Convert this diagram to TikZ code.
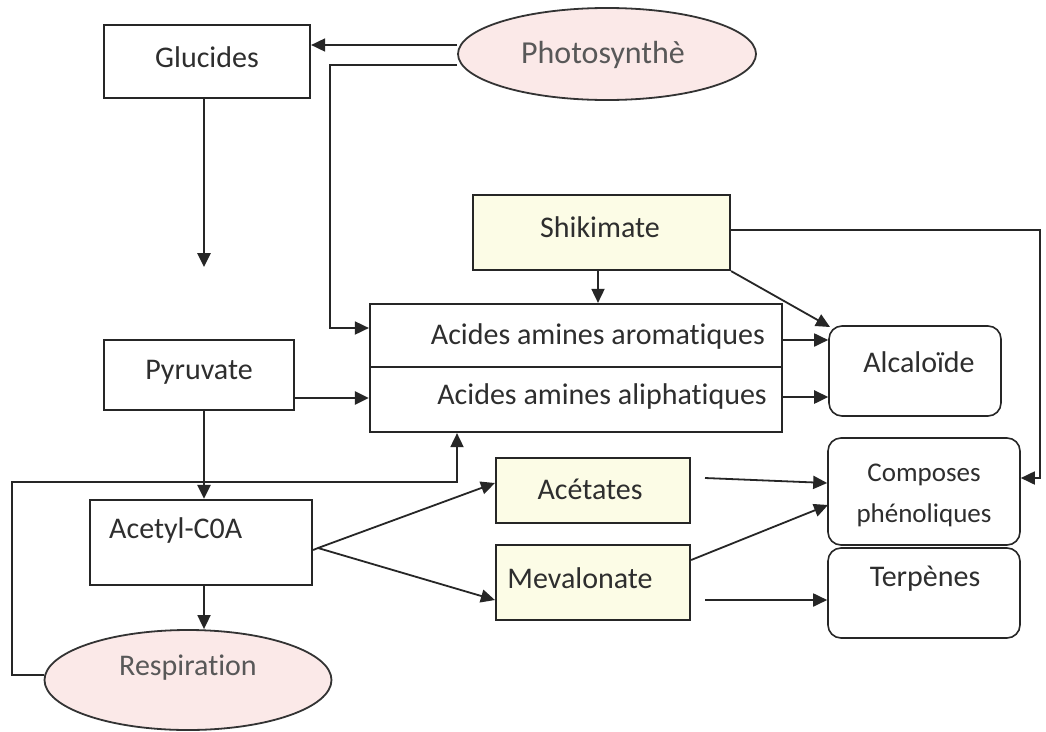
\documentclass[tikz,border=0pt]{standalone}
\usepackage{fontspec}
\setmainfont{Carlito}[Ligatures=NoCommon]
\usetikzlibrary{arrows.meta,shapes.geometric}
\definecolor{txt}{HTML}{2E2E2E}
\definecolor{pinkfill}{HTML}{FBE9E8}
\definecolor{yellowfill}{HTML}{FCFCE6}
\tikzset{
  box/.style={draw=black!85,line width=2.2pt,inner sep=0pt},
  rbox/.style={draw=black!85,line width=1.6pt,rounded corners=13pt,inner sep=0pt},
  oval/.style={ellipse,draw=black!80,line width=1.8pt,fill=pinkfill,inner sep=0pt},
  lbl/.style={text=txt,inner sep=0pt,font=\fontsize{30}{34}\selectfont},
  ovallbl/.style={text=txt!80,inner sep=0pt,font=\fontsize{32}{36}\selectfont},
  conn/.style={draw=black!85,line width=1.8pt,-{Triangle[length=14pt,width=13pt]}},
  thickconn/.style={conn,line width=2.6pt},
  plain/.style={draw=black!85,line width=1.8pt}
}
\begin{document}
\begin{tikzpicture}[x=1pt,y=-1pt]
\useasboundingbox (0,0) rectangle (1046,731);
\fill[white] (0,0) rectangle (1046,731);

% sources
\node[oval,minimum width=298pt,minimum height=92pt] (photo) at (607,54) {};
\node[ovallbl] (photol) at (603,55) {Photosynthè};
\node[oval,minimum width=287pt,minimum height=100pt] (resp) at (188,680) {};
\node[ovallbl,font=\fontsize{30}{34}\selectfont] (respl) at (188,668) {Respiration};

% rectangular boxes
\node[box,minimum width=206pt,minimum height=73pt] (gluc) at (207,61.5) {};
\node[lbl] (glucl) at (207,57) {Glucides};
\node[box,minimum width=190pt,minimum height=70pt] (pyr) at (199,375) {};
\node[lbl] (pyrl) at (199,372) {Pyruvate};
\node[box,minimum width=222pt,minimum height=85pt] (acetyl) at (201,542.5) {};
\node[lbl,anchor=west] (acetyll) at (109,530) {Acetyl-C0A};

\node[box,fill=yellowfill,minimum width=257pt,minimum height=75pt] (shik) at (601.5,232.5) {};
\node[lbl] (shikl) at (600,227) {Shikimate};
\node[box,fill=yellowfill,minimum width=194pt,minimum height=65pt] (acet) at (593,490.5) {};
\node[lbl] (acetl) at (590,489) {Acétates};
\node[box,fill=yellowfill,minimum width=194pt,minimum height=75pt] (meva) at (593,582.5) {};
\node[lbl] (meval) at (580,578) {Mevalonate};

% amino acid boxes
\node[box,minimum width=412pt,minimum height=63pt] (arom) at (576,335.5) {};
\node[lbl,anchor=east] (aroml) at (765,336) {Acides amines aromatiques};
\node[box,minimum width=412pt,minimum height=65pt] (aliph) at (576,399.5) {};
\node[lbl,anchor=east] (aliphl) at (767,396) {Acides amines aliphatiques};

% products
\node[rbox,minimum width=172pt,minimum height=90pt] (alca) at (915,371) {};
\node[lbl] (alcal) at (919,362) {Alcaloïde};
\node[rbox,minimum width=192pt,minimum height=107pt] (comp) at (924,491.5) {};
\node[lbl,font=\fontsize{27}{31}\selectfont,align=center] (compl) at (924,495) {Composes\\[10pt]phénoliques};
\node[rbox,minimum width=192pt,minimum height=90pt] (terp) at (924,593) {};
\node[lbl] (terpl) at (925,579) {Terpènes};

% bends and branch points
\coordinate (glucend) at (204,267);
\coordinate (ph2) at (330,65);
\coordinate (rl) at (12,675);
\coordinate (rr) at (12,482);
\coordinate (fork) at (318,548);
\coordinate (shr) at (1040,230);

% connectors
\draw[conn] (photo.west |- 0,45) -- (gluc.east |- 0,45);
\draw[conn] (photo.west |- 0,65) -- (ph2) -- (ph2 |- 0,328) -- (arom.west |- 0,328);
\draw[thickconn] (gluc.south -| glucend) -- (glucend);
\draw[thickconn] (pyr.east |- 0,398) -- (aliph.west |- 0,398);
\draw[thickconn] (pyr.south -| 204,0) -- (acetyl.north -| 204,0);
\draw[conn] (acetyl.south -| 204,0) -- (resp.north -| 204,0);
\draw[conn] (resp.west |- 0,675) -- (rl) -- (rr) -- (457,482) -- (aliph.south -| 457,0);
\draw[plain] (acetyl.east |- 0,550) -- (fork);
\draw[conn] (fork) -- (acet.west |- 0,483);
\draw[conn] (fork) -- (meva.west |- 0,600);
\draw[conn] (shik.south -| 598,0) -- (arom.north -| 598,0);
\draw[conn] (shik.south east) -- (830,327);
\draw[conn] (shik.east |- 0,230) -- (shr) -- (shr |- 0,478) -- (comp.east |- 0,478);
\draw[conn] (arom.east |- 0,340) -- (alca.west |- 0,340);
\draw[thickconn] (aliph.east |- 0,397) -- (alca.west |- 0,397);
\draw[conn] (705,478) -- (comp.west |- 0,483);
\draw[conn] (meva.east |- 0,560) -- (828,505);
\draw[conn] (705,600) -- (terp.west |- 0,600);
\end{tikzpicture}
\end{document}
